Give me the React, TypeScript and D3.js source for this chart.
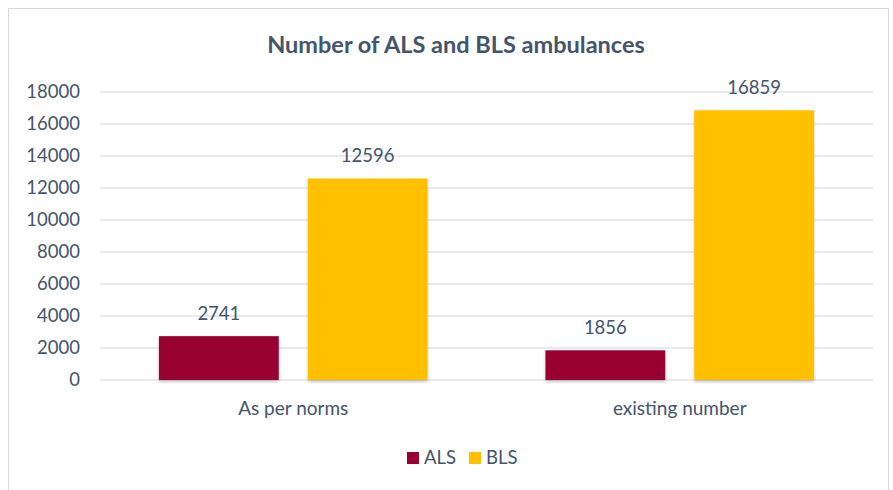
import * as d3 from 'd3';

const categories = ['As per norms', 'existing number'];
const seriesNames = ['ALS', 'BLS'];
const alsValues = [2741, 1856];
const blsValues = [12596, 16859];
const yTicks = [0, 2000, 4000, 6000, 8000, 10000, 12000, 14000, 16000, 18000];

const colors = { ALS: '#990033', BLS: '#FFC000' };
const textColor = '#44546A';
const font = 'Lato, "Open Sans", sans-serif';

const width = 893;
const height = 490;
const plotLeft = 100;
const plotRight = 873;
const plotTop = 92;
const plotBottom = 380;

export default function App() {
  const values: Record<string, number[]> = { ALS: alsValues, BLS: blsValues };

  const y = d3.scaleLinear().domain([0, 18000]).range([plotBottom, plotTop]);
  const x0 = d3.scaleBand().domain(categories).range([plotLeft, plotRight]).padding(0);
  const groupWidth = x0.bandwidth() * 0.695;
  const x1 = d3.scaleBand().domain(seriesNames).range([0, groupWidth]).paddingInner(0.195);
  const groupOffset = (x0.bandwidth() - groupWidth) / 2;

  return (
    <svg width={width} height={height} style={{ position: 'absolute', left: 0, top: 0, background: '#fff' }}>
      <defs>
        <filter id="shadow" x="-10%" y="-10%" width="120%" height="130%">
          <feDropShadow dx="0" dy="2" stdDeviation="1.5" floodColor="#000" floodOpacity="0.22" />
        </filter>
      </defs>
      <rect x={8.5} y={8.5} width={880} height={490} fill="#fff" stroke="#d9d9d9" strokeWidth={1} />

      <text x={456} y={53} textAnchor="middle" fontFamily={font} fontWeight="bold" fontSize={23.5} fill={textColor}>
        Number of ALS and BLS ambulances
      </text>

      {yTicks.map((t) => (
        <g key={t}>
          <line x1={plotLeft} x2={plotRight} y1={y(t)} y2={y(t)} stroke="#dfe3e8" strokeWidth={1.5} />
          <text x={80} y={y(t)} dy="0.35em" textAnchor="end" fontFamily={font} fontSize={18.5} fill={textColor}>
            {t}
          </text>
        </g>
      ))}

      {categories.map((c, i) => (
        <g key={c} transform={`translate(${x0(c)! + groupOffset},0)`}>
          {seriesNames.map((s) => (
            <g key={s}>
              <rect
                x={x1(s)}
                y={y(values[s][i])}
                width={x1.bandwidth()}
                height={plotBottom - y(values[s][i])}
                fill={colors[s as 'ALS' | 'BLS']}
                filter="url(#shadow)"
              />
              <text
                x={x1(s)! + x1.bandwidth() / 2}
                y={y(values[s][i]) - 16}
                textAnchor="middle"
                fontFamily={font}
                fontSize={18.5}
                fill={textColor}
              >
                {values[s][i]}
              </text>
            </g>
          ))}
          <text
            x={groupWidth / 2}
            y={415}
            textAnchor="middle"
            fontFamily={font}
            fontSize={19}
            fill={textColor}
          >
            {c}
          </text>
        </g>
      ))}

      <g transform="translate(407,452)">
        {seriesNames.map((s, i) => (
          <g key={s} transform={`translate(${i * 62},0)`}>
            <rect x={0} y={0} width={12} height={12} fill={colors[s as 'ALS' | 'BLS']} />
            <text x={17} y={6} dy="0.35em" fontFamily={font} fontSize={18.5} fill={textColor}>
              {s}
            </text>
          </g>
        ))}
      </g>
    </svg>
  );
}
